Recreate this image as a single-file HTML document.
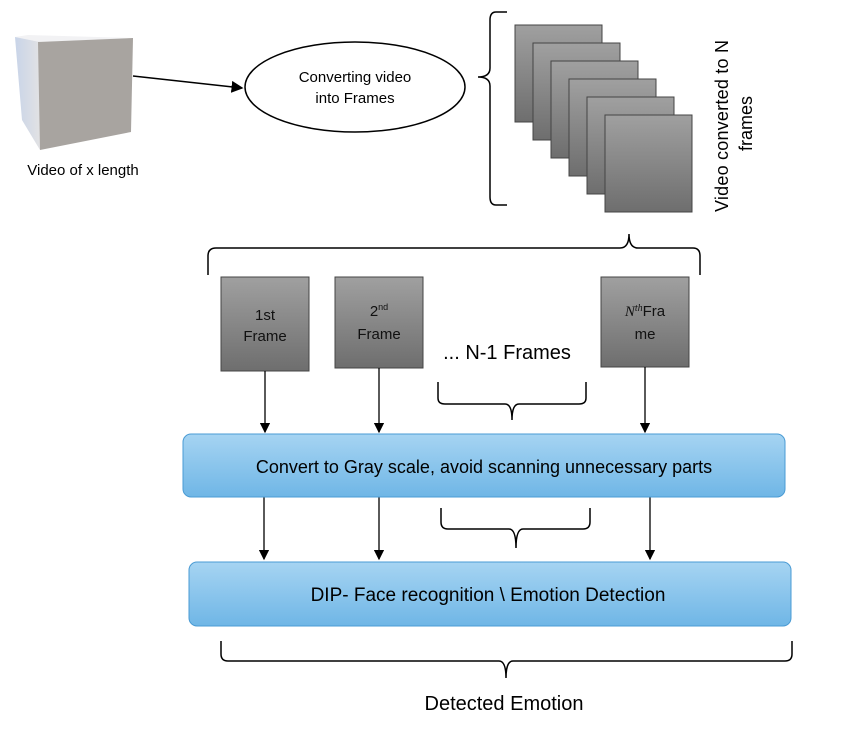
<!DOCTYPE html>
<html><head><style>
body{margin:0;background:#fff;width:852px;height:732px;overflow:hidden;font-family:"Liberation Sans",sans-serif}
</style></head><body>
<svg width="852" height="732" xmlns="http://www.w3.org/2000/svg">
<defs>
<linearGradient id="g" x1="0" y1="0" x2="0" y2="1"><stop offset="0" stop-color="#a0a0a0"/><stop offset="1" stop-color="#6e6e6e"/></linearGradient>
<linearGradient id="b" x1="0" y1="0" x2="0" y2="1"><stop offset="0" stop-color="#a6d4f2"/><stop offset="1" stop-color="#6fb6e6"/></linearGradient>
<linearGradient id="cf" x1="0" y1="0" x2="1" y2="0"><stop offset="0" stop-color="#c8d4e8"/><stop offset="1" stop-color="#e2e2e4"/></linearGradient>
<marker id="a" markerWidth="8" markerHeight="8" refX="7" refY="4" orient="auto"><path d="M0,0 L8,4 L0,8z" fill="#000"/></marker>
</defs>
<polygon points="15,37 28,35 133,38 40,42" fill="#f2f2f4"/>
<polygon points="15,37 40,42 40,150 22,120" fill="url(#cf)"/>
<polygon points="38,42 133,38 131,132 40,150" fill="#a8a4a0"/>
<text x="83" y="175" font-size="15" text-anchor="middle">Video of x length</text>
<line x1="133" y1="76" x2="242" y2="88" stroke="#000" stroke-width="1.5" marker-end="url(#a)"/>
<ellipse cx="355" cy="87" rx="110" ry="45" fill="#fff" stroke="#000" stroke-width="1.5"/>
<text x="355" y="82" font-size="15" text-anchor="middle">Converting video</text>
<text x="355" y="103" font-size="15" text-anchor="middle">into Frames</text>
<path d="M507,12 H496 Q490,12 490,20 V68 Q490,77 478,77 Q490,77 490,86 V197 Q490,205 496,205 H507" fill="none" stroke="#000" stroke-width="1.5"/>
<g stroke="#444" stroke-width="1" fill="url(#g)">
<rect x="515" y="25" width="87" height="97"/>
<rect x="533" y="43" width="87" height="97"/>
<rect x="551" y="61" width="87" height="97"/>
<rect x="569" y="79" width="87" height="97"/>
<rect x="587" y="97" width="87" height="97"/>
<rect x="605" y="115" width="87" height="97"/>
</g>
<text transform="translate(728,212) rotate(-90)" font-size="18" textLength="172">Video converted to N</text>
<text transform="translate(752,151) rotate(-90)" font-size="18">frames</text>
<path d="M208,275 V256 Q208,248 216,248 H620 Q629,248 629,234 Q629,248 638,248 H693 Q700,248 700,256 V275" fill="none" stroke="#000" stroke-width="1.5"/>
<g stroke="#444" fill="url(#g)">
<rect x="221" y="277" width="88" height="94"/>
<rect x="335" y="277" width="88" height="91"/>
<rect x="601" y="277" width="88" height="90"/>
</g>
<g font-size="15" text-anchor="middle" fill="#111">
<text x="265" y="320">1st</text><text x="265" y="341">Frame</text>
<text x="379" y="316">2<tspan font-size="9" dy="-6">nd</tspan></text><text x="379" y="339">Frame</text>
<text x="645" y="316"><tspan font-family="Liberation Serif" font-style="italic">N</tspan><tspan font-family="Liberation Serif" font-style="italic" font-size="10" dy="-5">th</tspan><tspan dy="5">Fra</tspan></text><text x="645" y="339">me</text>
</g>
<text x="507" y="359" font-size="20" text-anchor="middle">... N-1 Frames</text>
<path d="M438,382 V398 Q438,404 445,404 H505 Q512,404 512,420 Q512,404 519,404 H579 Q586,404 586,398 V382" fill="none" stroke="#000" stroke-width="1.5"/>
<g stroke="#000" stroke-width="1.3" marker-end="url(#a)">
<line x1="265" y1="371" x2="265" y2="432"/><line x1="379" y1="368" x2="379" y2="432"/><line x1="645" y1="367" x2="645" y2="432"/>
<line x1="264" y1="497" x2="264" y2="559"/><line x1="379" y1="497" x2="379" y2="559"/><line x1="650" y1="497" x2="650" y2="559"/>
</g>
<rect x="183" y="434" width="602" height="63" rx="8" fill="url(#b)" stroke="#4a9bd4"/>
<text x="484" y="473" font-size="18" text-anchor="middle">Convert to Gray scale, avoid scanning unnecessary parts</text>
<path d="M441,508 V522 Q441,529 448,529 H509 Q516,529 516,548 Q516,529 523,529 H583 Q590,529 590,522 V508" fill="none" stroke="#000" stroke-width="1.5"/>
<rect x="189" y="562" width="602" height="64" rx="8" fill="url(#b)" stroke="#4a9bd4"/>
<text x="488" y="601" font-size="19" text-anchor="middle">DIP- Face recognition \ Emotion Detection</text>
<path d="M221,641 V654 Q221,661 228,661 H499 Q506,661 506,678 Q506,661 513,661 H785 Q792,661 792,654 V641" fill="none" stroke="#000" stroke-width="1.5"/>
<text x="504" y="710" font-size="20" text-anchor="middle">Detected Emotion</text>
</svg>
</body></html>
